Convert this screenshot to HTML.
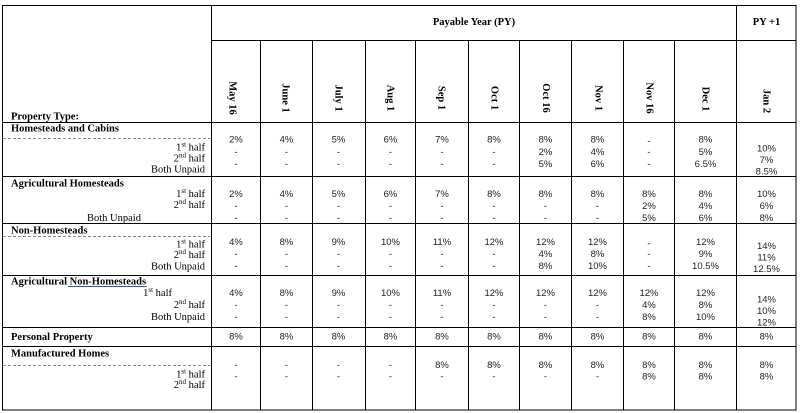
<!DOCTYPE html>
<html><head><meta charset="utf-8">
<style>
html,body{margin:0;padding:0;background:#fff;}
svg{display:block;}
.b{font-family:"Liberation Serif",serif;font-weight:bold;font-size:10.5px;fill:#000;}
.r{font-family:"Liberation Serif",serif;font-size:10.5px;fill:#000;}
.d{font-family:"Liberation Sans",sans-serif;font-size:9.5px;fill:#222;text-anchor:middle;}
.e{text-anchor:end;}
</style></head>
<body>
<svg width="803" height="413" viewBox="0 0 803 413" xmlns="http://www.w3.org/2000/svg">
<rect x="0" y="0" width="803" height="413" fill="#fff"/>
<g stroke="#000" stroke-width="1" fill="none">
<rect x="2.5" y="5.5" width="793.5" height="404.5"/>
<line x1="211.5" y1="5" x2="211.5" y2="410"/>
<line x1="736.5" y1="5" x2="736.5" y2="410"/>
<line x1="211" y1="40.5" x2="796" y2="40.5"/>
<line x1="260.5" y1="40" x2="260.5" y2="410"/>
<line x1="312.5" y1="40" x2="312.5" y2="410"/>
<line x1="365.5" y1="40" x2="365.5" y2="410"/>
<line x1="415.5" y1="40" x2="415.5" y2="410"/>
<line x1="468.5" y1="40" x2="468.5" y2="410"/>
<line x1="519.5" y1="40" x2="519.5" y2="410"/>
<line x1="571.5" y1="40" x2="571.5" y2="410"/>
<line x1="623.5" y1="40" x2="623.5" y2="410"/>
<line x1="674.5" y1="40" x2="674.5" y2="410"/>
<line x1="2" y1="122.5" x2="796" y2="122.5"/>
<line x1="2" y1="176.5" x2="796" y2="176.5"/>
<line x1="2" y1="223.5" x2="796" y2="223.5"/>
<line x1="2" y1="275.5" x2="796" y2="275.5"/>
<line x1="2" y1="327.5" x2="796" y2="327.5"/>
<line x1="2" y1="346.5" x2="796" y2="346.5"/>
</g>
<g stroke="#8a8a8a" stroke-width="1" stroke-dasharray="3 2">
<line x1="3" y1="138.5" x2="210" y2="138.5"/>
<line x1="3" y1="236.5" x2="210" y2="236.5"/>
<line x1="3" y1="365.5" x2="210" y2="365.5"/>
</g>
<line x1="68" y1="286.5" x2="147" y2="286.5" stroke="#2e5aa6" stroke-width="1"/>

<!-- header -->
<text class="b" x="474" y="25" text-anchor="middle">Payable Year (PY)</text>
<text class="b" x="766.5" y="25" text-anchor="middle">PY +1</text>

<g class="b" text-anchor="middle">
<text transform="translate(233,98) rotate(90)" x="0" y="3.5">May 16</text>
<text transform="translate(286,98) rotate(90)" x="0" y="3.5">June 1</text>
<text transform="translate(339,98) rotate(90)" x="0" y="3.5">July 1</text>
<text transform="translate(391,98) rotate(90)" x="0" y="3.5">Aug 1</text>
<text transform="translate(442,98) rotate(90)" x="0" y="3.5">Sep 1</text>
<text transform="translate(495,98) rotate(90)" x="0" y="3.5">Oct 1</text>
<text transform="translate(546.5,98) rotate(90)" x="0" y="3.5">Oct 16</text>
<text transform="translate(599,98) rotate(90)" x="0" y="3.5">Nov 1</text>
<text transform="translate(650,98) rotate(90)" x="0" y="3.5">Nov 16</text>
<text transform="translate(706,99) rotate(90)" x="0" y="3.5">Dec 1</text>
<text transform="translate(767,101) rotate(90)" x="0" y="3.5">Jan 2</text>
</g>

<!-- labels -->
<text class="b" x="11" y="119.5">Property Type:</text>
<text class="b" x="11" y="131.5">Homesteads and Cabins</text>
<text class="r e" x="205" y="150.5">1<tspan font-size="7" dy="-4">st</tspan><tspan dy="4"> half</tspan></text>
<text class="r e" x="205" y="161.5">2<tspan font-size="7" dy="-4">nd</tspan><tspan dy="4"> half</tspan></text>
<text class="r e" x="205" y="172.5">Both Unpaid</text>

<text class="b" x="11" y="186.5">Agricultural Homesteads</text>
<text class="r e" x="205" y="197">1<tspan font-size="7" dy="-4">st</tspan><tspan dy="4"> half</tspan></text>
<text class="r e" x="205" y="208">2<tspan font-size="7" dy="-4">nd</tspan><tspan dy="4"> half</tspan></text>
<text class="r" x="87" y="221">Both Unpaid</text>

<text class="b" x="11" y="233.5">Non-Homesteads</text>
<text class="r e" x="205" y="247.5">1<tspan font-size="7" dy="-4">st</tspan><tspan dy="4"> half</tspan></text>
<text class="r e" x="205" y="258">2<tspan font-size="7" dy="-4">nd</tspan><tspan dy="4"> half</tspan></text>
<text class="r e" x="205" y="269.5">Both Unpaid</text>

<text class="b" x="11" y="284.5">Agricultural Non-Homesteads</text>
<text class="r e" x="172" y="296">1<tspan font-size="7" dy="-4">st</tspan><tspan dy="4"> half</tspan></text>
<text class="r e" x="205" y="308">2<tspan font-size="7" dy="-4">nd</tspan><tspan dy="4"> half</tspan></text>
<text class="r e" x="205" y="320">Both Unpaid</text>

<text class="b" x="11" y="340">Personal Property</text>

<text class="b" x="11" y="356.5">Manufactured Homes</text>
<text class="r e" x="205" y="377.5">1<tspan font-size="7" dy="-4">st</tspan><tspan dy="4"> half</tspan></text>
<text class="r e" x="205" y="388">2<tspan font-size="7" dy="-4">nd</tspan><tspan dy="4"> half</tspan></text>

<!-- data -->
<g class="d">
<text x="236" y="142.5">2%</text><text x="236" y="155">-</text><text x="236" y="167">-</text>
<text x="286.5" y="142.5">4%</text><text x="286.5" y="155">-</text><text x="286.5" y="167">-</text>
<text x="338.5" y="142.5">5%</text><text x="338.5" y="155">-</text><text x="338.5" y="167">-</text>
<text x="390.5" y="142.5">6%</text><text x="390.5" y="155">-</text><text x="390.5" y="167">-</text>
<text x="442" y="142.5">7%</text><text x="442" y="155">-</text><text x="442" y="167">-</text>
<text x="494" y="142.5">8%</text><text x="494" y="155">-</text><text x="494" y="167">-</text>
<text x="545.5" y="142.5">8%</text><text x="545.5" y="155">2%</text><text x="545.5" y="167">5%</text>
<text x="597.5" y="142.5">8%</text><text x="597.5" y="155">4%</text><text x="597.5" y="167">6%</text>
<text x="649" y="144">-</text><text x="649" y="155">-</text><text x="649" y="167">-</text>
<text x="705.5" y="142.5">8%</text><text x="705.5" y="155">5%</text><text x="705.5" y="167">6.5%</text>
<text x="766.5" y="151.5">10%</text><text x="766.5" y="163">7%</text><text x="766.5" y="174.5">8.5%</text>

<text x="236" y="197">2%</text><text x="236" y="209">-</text><text x="236" y="221">-</text>
<text x="286.5" y="197">4%</text><text x="286.5" y="209">-</text><text x="286.5" y="221">-</text>
<text x="338.5" y="197">5%</text><text x="338.5" y="209">-</text><text x="338.5" y="221">-</text>
<text x="390.5" y="197">6%</text><text x="390.5" y="209">-</text><text x="390.5" y="221">-</text>
<text x="442" y="197">7%</text><text x="442" y="209">-</text><text x="442" y="221">-</text>
<text x="494" y="197">8%</text><text x="494" y="209">-</text><text x="494" y="221">-</text>
<text x="545.5" y="197">8%</text><text x="545.5" y="209">-</text><text x="545.5" y="221">-</text>
<text x="597.5" y="197">8%</text><text x="597.5" y="209">-</text><text x="597.5" y="221">-</text>
<text x="649" y="197">8%</text><text x="649" y="209">2%</text><text x="649" y="221">5%</text>
<text x="705.5" y="197">8%</text><text x="705.5" y="209">4%</text><text x="705.5" y="221">6%</text>
<text x="766.5" y="197">10%</text><text x="766.5" y="209">6%</text><text x="766.5" y="221">8%</text>

<text x="236" y="245">4%</text><text x="236" y="257">-</text><text x="236" y="269">-</text>
<text x="286.5" y="245">8%</text><text x="286.5" y="257">-</text><text x="286.5" y="269">-</text>
<text x="338.5" y="245">9%</text><text x="338.5" y="257">-</text><text x="338.5" y="269">-</text>
<text x="390.5" y="245">10%</text><text x="390.5" y="257">-</text><text x="390.5" y="269">-</text>
<text x="442" y="245">11%</text><text x="442" y="257">-</text><text x="442" y="269">-</text>
<text x="494" y="245">12%</text><text x="494" y="257">-</text><text x="494" y="269">-</text>
<text x="545.5" y="245">12%</text><text x="545.5" y="257">4%</text><text x="545.5" y="269">8%</text>
<text x="597.5" y="245">12%</text><text x="597.5" y="257">8%</text><text x="597.5" y="269">10%</text>
<text x="649" y="246.5">-</text><text x="649" y="257">-</text><text x="649" y="269">-</text>
<text x="705.5" y="245">12%</text><text x="705.5" y="257">9%</text><text x="705.5" y="269">10.5%</text>
<text x="766.5" y="249">14%</text><text x="766.5" y="260.5">11%</text><text x="766.5" y="272">12.5%</text>

<text x="236" y="296">4%</text><text x="236" y="308">-</text><text x="236" y="320">-</text>
<text x="286.5" y="296">8%</text><text x="286.5" y="308">-</text><text x="286.5" y="320">-</text>
<text x="338.5" y="296">9%</text><text x="338.5" y="308">-</text><text x="338.5" y="320">-</text>
<text x="390.5" y="296">10%</text><text x="390.5" y="308">-</text><text x="390.5" y="320">-</text>
<text x="442" y="296">11%</text><text x="442" y="308">-</text><text x="442" y="320">-</text>
<text x="494" y="296">12%</text><text x="494" y="308">-</text><text x="494" y="320">-</text>
<text x="545.5" y="296">12%</text><text x="545.5" y="308">-</text><text x="545.5" y="320">-</text>
<text x="597.5" y="296">12%</text><text x="597.5" y="308">-</text><text x="597.5" y="320">-</text>
<text x="649" y="296">12%</text><text x="649" y="308">4%</text><text x="649" y="320">8%</text>
<text x="705.5" y="296">12%</text><text x="705.5" y="308">8%</text><text x="705.5" y="320">10%</text>
<text x="766.5" y="302.5">14%</text><text x="766.5" y="314">10%</text><text x="766.5" y="325.5">12%</text>

<text x="236" y="339.5">8%</text>
<text x="286.5" y="339.5">8%</text>
<text x="338.5" y="339.5">8%</text>
<text x="390.5" y="339.5">8%</text>
<text x="442" y="339.5">8%</text>
<text x="494" y="339.5">8%</text>
<text x="545.5" y="339.5">8%</text>
<text x="597.5" y="339.5">8%</text>
<text x="649" y="339.5">8%</text>
<text x="705.5" y="339.5">8%</text>
<text x="766.5" y="339.5">8%</text>

<text x="236" y="368">-</text><text x="236" y="379.5">-</text>
<text x="286.5" y="368">-</text><text x="286.5" y="379.5">-</text>
<text x="338.5" y="368">-</text><text x="338.5" y="379.5">-</text>
<text x="390.5" y="368">-</text><text x="390.5" y="379.5">-</text>
<text x="442" y="368">8%</text><text x="442" y="379.5">-</text>
<text x="494" y="368">8%</text><text x="494" y="379.5">-</text>
<text x="545.5" y="368">8%</text><text x="545.5" y="379.5">-</text>
<text x="597.5" y="368">8%</text><text x="597.5" y="379.5">-</text>
<text x="649" y="368">8%</text><text x="649" y="379.5">8%</text>
<text x="705.5" y="368">8%</text><text x="705.5" y="379.5">8%</text>
<text x="766.5" y="368">8%</text><text x="766.5" y="379.5">8%</text>
</g>
</svg>
</body></html>
